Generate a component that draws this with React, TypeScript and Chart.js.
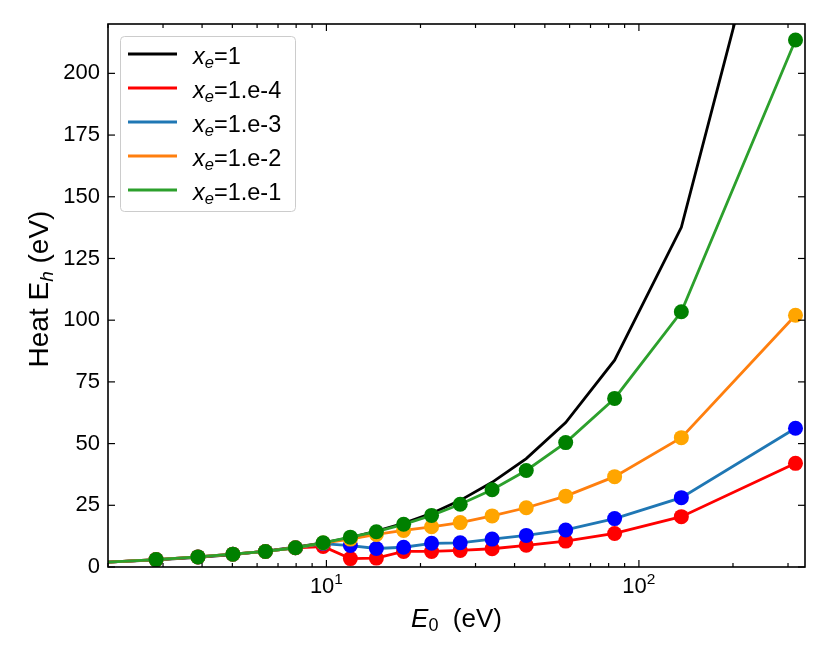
import { useEffect, useRef } from 'react';
import { Chart, registerables, type ChartConfiguration, type Plugin } from 'chart.js';

Chart.register(...registerables);

// E0 grid (eV); first point only feeds the lines, markers start at the second one
const energies = [2.0, 2.85, 3.88, 5.02, 6.38, 7.96, 9.76, 11.93, 14.45, 17.66, 21.7, 26.8, 33.9, 43.6, 58.3, 83.6, 136.7, 317];
const heatXe1 = [2.0, 2.9, 3.9, 5.0, 6.4, 8.0, 9.8, 11.9, 14.5, 17.7, 21.7, 27.0, 34.3, 43.9, 58.5, 83.8, 137.6, 315];
const heatXe1e4 = [2.0, 3.0, 4.1, 5.2, 6.3, 7.8, 8.3, 3.4, 3.6, 6.3, 6.3, 6.7, 7.4, 8.8, 10.5, 13.6, 20.4, 42.0];
const heatXe1e3 = [2.0, 3.0, 4.1, 5.2, 6.3, 7.8, 9.5, 8.7, 7.5, 8.0, 9.6, 9.8, 11.3, 12.8, 15.0, 19.6, 28.1, 56.2];
const heatXe1e2 = [2.0, 3.0, 4.1, 5.2, 6.3, 7.8, 9.7, 11.3, 13.2, 14.8, 16.3, 18.0, 20.7, 24.0, 28.7, 36.6, 52.4, 102.0];
const heatXe1e1 = [2.0, 3.0, 4.1, 5.2, 6.3, 7.8, 9.8, 12.1, 14.3, 17.3, 20.9, 25.4, 31.3, 39.1, 50.4, 68.3, 103.4, 213.5];

const legendLabels = ['1', '1.e-4', '1.e-3', '1.e-2', '1.e-1'];
const xMajorTicks = [10, 100];
const xMajorExponents = ['1', '2'];
const xMinorTicks = [2, 3, 4, 5, 6, 7, 8, 9, 20, 30, 40, 50, 60, 70, 80, 90, 200, 300];

const FONT = "'Liberation Sans', Arial, sans-serif";
const lineColors = ['#000000', '#ff0000', '#1f77b4', '#ff7f0e', '#2ca02c'];
const markerColors = [null, '#ff0000', '#0000ff', '#ffa500', '#008000'];

type Run = { text: string; size: number; italic?: boolean; dy?: number };

function runsWidth(ctx: CanvasRenderingContext2D, runs: Run[]) {
  let w = 0;
  for (const r of runs) {
    ctx.font = `${r.italic ? 'italic ' : ''}${r.size}px ${FONT}`;
    w += ctx.measureText(r.text).width;
  }
  return w;
}

function drawRuns(ctx: CanvasRenderingContext2D, runs: Run[], x: number, y: number) {
  let cx = x;
  for (const r of runs) {
    ctx.font = `${r.italic ? 'italic ' : ''}${r.size}px ${FONT}`;
    ctx.fillText(r.text, cx, y + (r.dy ?? 0));
    cx += ctx.measureText(r.text).width;
  }
}

const framePlugin: Plugin<'line'> = {
  id: 'frame',
  afterDatasetsDraw(chart) {
    const { ctx, chartArea: a, scales } = chart;
    const xs = scales.x;
    const ys = scales.y;
    ctx.save();
    ctx.strokeStyle = '#000';
    ctx.fillStyle = '#000';
    ctx.lineWidth = 1.2;

    // inward ticks on all four sides
    const tick = (x1: number, y1: number, x2: number, y2: number) => {
      ctx.beginPath();
      ctx.moveTo(x1, y1);
      ctx.lineTo(x2, y2);
      ctx.stroke();
    };
    for (const v of xMinorTicks) {
      const px = xs.getPixelForValue(v);
      tick(px, a.bottom, px, a.bottom - 4);
      tick(px, a.top, px, a.top + 4);
    }
    for (const v of xMajorTicks) {
      const px = xs.getPixelForValue(v);
      tick(px, a.bottom, px, a.bottom - 7);
      tick(px, a.top, px, a.top + 7);
    }
    for (const t of ys.ticks) {
      const py = ys.getPixelForValue(t.value);
      tick(a.left, py, a.left + 7, py);
      tick(a.right, py, a.right - 7, py);
    }

    ctx.lineWidth = 1.6;
    ctx.strokeRect(a.left, a.top, a.right - a.left, a.bottom - a.top);

    // x tick labels 10^n
    ctx.textBaseline = 'alphabetic';
    ctx.textAlign = 'left';
    xMajorTicks.forEach((v, i) => {
      const runs: Run[] = [
        { text: '10', size: 22 },
        { text: xMajorExponents[i], size: 15.5, dy: -9.5 },
      ];
      const w = runsWidth(ctx, runs);
      drawRuns(ctx, runs, xs.getPixelForValue(v) - w / 2, 593);
    });

    // axis titles
    const xTitle: Run[] = [
      { text: 'E', size: 26, italic: true },
      { text: '0', size: 18, dy: 4 },
      { text: '  (eV)', size: 26 },
    ];
    drawRuns(ctx, xTitle, (a.left + a.right) / 2 - runsWidth(ctx, xTitle) / 2, 627);

    const yTitle: Run[] = [
      { text: 'Heat E', size: 28 },
      { text: 'h', size: 19, italic: true, dy: 5 },
      { text: ' (eV)', size: 28 },
    ];
    ctx.save();
    ctx.translate(48, 289);
    ctx.rotate(-Math.PI / 2);
    drawRuns(ctx, yTitle, -runsWidth(ctx, yTitle) / 2, 0);
    ctx.restore();

    // legend
    ctx.beginPath();
    ctx.roundRect(120.5, 36.5, 175, 175, 4);
    ctx.fillStyle = 'rgba(255,255,255,0.8)';
    ctx.fill();
    ctx.strokeStyle = '#cccccc';
    ctx.lineWidth = 1;
    ctx.stroke();
    legendLabels.forEach((label, i) => {
      const ly = 54 + i * 34;
      ctx.strokeStyle = lineColors[i];
      ctx.lineWidth = 2.8;
      tick(128, ly, 177, ly);
      ctx.fillStyle = '#000';
      drawRuns(
        ctx,
        [
          { text: 'x', size: 23.5, italic: true },
          { text: 'e', size: 16.5, italic: true, dy: 4 },
          { text: '=' + label, size: 23.5 },
        ],
        193,
        ly + 9.5,
      );
    });
    ctx.restore();
  },
};

function HeatChart() {
  const canvasRef = useRef<HTMLCanvasElement | null>(null);

  useEffect(() => {
    if (!canvasRef.current) return;
    const allSeries = [heatXe1, heatXe1e4, heatXe1e3, heatXe1e2, heatXe1e1];
    const datasets: any[] = [];
    allSeries.forEach((vals, i) => {
      // later series drawn on top: line, then its markers
      datasets.push({
        label: legendLabels[i],
        data: energies.map((e, j) => ({ x: e, y: vals[j] })),
        borderColor: lineColors[i],
        borderWidth: 2.8,
        pointRadius: 0,
        fill: false,
        order: 20 - i * 2,
      });
      const mc = markerColors[i];
      if (mc) {
        datasets.push({
          label: legendLabels[i] + ' pts',
          data: energies.slice(1).map((e, j) => ({ x: e, y: vals[j + 1] })),
          showLine: false,
          pointRadius: 7.5,
          pointBackgroundColor: mc,
          pointBorderWidth: 0,
          order: 19 - i * 2,
        });
      }
    });

    const config: ChartConfiguration<'line'> = {
      type: 'line',
      data: { datasets },
      options: {
        animation: false,
        responsive: true,
        maintainAspectRatio: false,
        layout: { padding: { top: 24, right: 25, left: 0, bottom: 0 } },
        plugins: { legend: { display: false }, tooltip: { enabled: false } },
        scales: {
          x: {
            type: 'logarithmic',
            min: 2,
            max: 340,
            grid: { display: false, drawTicks: false },
            border: { display: false },
            ticks: { display: false },
            afterBuildTicks: (s) => {
              s.ticks = xMajorTicks.map((v) => ({ value: v }));
            },
            afterFit: (s) => {
              s.height = 97;
            },
          },
          y: {
            type: 'linear',
            min: 0,
            max: 220,
            grid: { display: false, drawTicks: false },
            border: { display: false },
            ticks: {
              stepSize: 25,
              includeBounds: false,
              padding: 8,
              color: '#000',
              font: { family: FONT, size: 22 },
            },
            afterFit: (s) => {
              s.width = 108;
            },
          },
        },
      },
      plugins: [framePlugin],
    };

    const chart = new Chart(canvasRef.current, config);
    return () => {
      chart.destroy();
    };
  }, []);

  return <canvas ref={canvasRef} />;
}

export default function App() {
  return (
    <div style={{ position: 'fixed', left: 0, top: 0, width: 830, height: 664, background: '#fff' }}>
      <HeatChart />
    </div>
  );
}
